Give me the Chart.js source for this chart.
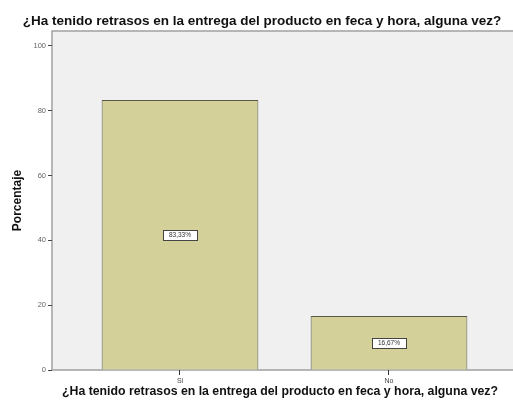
<!DOCTYPE html>
<html>
<head>
<meta charset="utf-8">
<script src="https://cdn.jsdelivr.net/npm/chart.js@4.4.1/dist/chart.umd.min.js"></script>
<style>
  html, body { margin: 0; padding: 0; background: #ffffff; overflow: hidden; }
  #wrap { position: relative; width: 513px; height: 407px; overflow: hidden; }
  #chart { display: block; width: 525px; height: 407px; max-width: none; }
</style>
</head>
<body>
<div id="wrap"><canvas id="chart" width="525" height="407" style="width:525px;height:407px"></canvas></div>
<script>
// Survey answers and their percentages
const categories = ['Si', 'No'];
const percentages = [83.33, 16.67];
const yTickValues = [0, 20, 40, 60, 80, 100];
const questionText = '¿Ha tenido retrasos en la entrega del producto en feca y hora, alguna vez?';

const FONT = '"Liberation Sans", Arial, sans-serif';

// Light grey plot panel with a grey frame (the frame runs off the right edge)
const panelPlugin = {
  id: 'panel',
  beforeDraw(chart) {
    const { ctx, chartArea: a, width } = chart;
    ctx.save();
    ctx.fillStyle = '#f0f0f0';
    ctx.fillRect(a.left, a.top, width - a.left, a.bottom - a.top);
    ctx.strokeStyle = '#a0a0a0';
    ctx.lineWidth = 1.5;
    ctx.beginPath();
    ctx.moveTo(width + 2, a.top);
    ctx.lineTo(a.left, a.top);
    ctx.lineTo(a.left, a.bottom);
    ctx.lineTo(width + 2, a.bottom);
    ctx.stroke();
    ctx.restore();
  }
};

// Boxed percentage label in the middle of each bar
const valueBoxPlugin = {
  id: 'valueBoxes',
  afterDatasetsDraw(chart) {
    const { ctx } = chart;
    const meta = chart.getDatasetMeta(0);
    const yScale = chart.scales.y;
    ctx.save();
    ctx.font = '6.5px ' + FONT;
    ctx.textAlign = 'center';
    ctx.textBaseline = 'middle';
    meta.data.forEach((bar, i) => {
      const v = percentages[i];
      const text = v.toFixed(2).replace('.', ',') + '%';
      const cx = bar.x;
      const cy = (yScale.getPixelForValue(v) + yScale.getPixelForValue(0)) / 2;
      const w = 34, h = 10;
      ctx.fillStyle = '#ffffff';
      ctx.fillRect(cx - w / 2, cy - h / 2, w, h);
      ctx.strokeStyle = '#444444';
      ctx.lineWidth = 1;
      ctx.strokeRect(Math.round(cx - w / 2) + 0.5, Math.round(cy - h / 2) + 0.5, w, h);
      ctx.fillStyle = '#333333';
      ctx.fillText(text, cx, cy + 0.5);
    });
    ctx.restore();
  }
};

new Chart(document.getElementById('chart'), {
  type: 'bar',
  data: {
    datasets: [{
      data: percentages.map((v, i) => ({ x: i, y: v })),
      backgroundColor: '#d4d09a',
      borderColor: '#57574a',
      borderWidth: 1,
      barPercentage: 0.75,
      categoryPercentage: 1
    }]
  },
  options: {
    responsive: false,
    maintainAspectRatio: false,
    animation: false,
    layout: { padding: { left: 16, right: 17, top: 0, bottom: 0 } },
    plugins: {
      legend: { display: false },
      tooltip: { enabled: false },
      title: {
        display: true,
        text: questionText,
        color: '#111111',
        font: { family: FONT, size: 13.5, weight: 'bold', lineHeight: 1.2 },
        padding: { top: 12.9, bottom: 1.9 }
      }
    },
    scales: {
      x: {
        type: 'linear',
        offset: false,
        min: -0.6124,
        max: 1.5694,
        afterBuildTicks(scale) {
          scale.ticks = categories.map((c, i) => ({ value: i }));
        },
        afterFit(scale) { scale.height = 37; },
        border: { display: false },
        grid: {
          display: true,
          offset: false,
          drawOnChartArea: false,
          drawTicks: true,
          tickLength: 5,
          tickColor: '#333333',
          tickWidth: 1
        },
        ticks: {
          autoSkip: false,
          maxRotation: 0,
          padding: 2,
          color: '#444444',
          font: { family: FONT, size: 7 },
          callback: (value) => categories[value]
        },
        title: {
          display: true,
          text: questionText,
          color: '#111111',
          font: { family: FONT, size: 12.3, weight: 'bold', lineHeight: 1.2 },
          padding: { top: 0, bottom: 7.6 }
        }
      },
      y: {
        min: 0,
        max: 104.6,
        afterBuildTicks(scale) {
          scale.ticks = yTickValues.map(v => ({ value: v }));
        },
        afterFit(scale) { scale.width = 36; },
        border: { display: false },
        grid: {
          display: true,
          drawOnChartArea: false,
          drawTicks: true,
          tickLength: 4,
          tickColor: '#444444',
          tickWidth: 1
        },
        ticks: {
          padding: 2,
          color: '#666666',
          font: { family: FONT, size: 7.5 }
        },
        title: {
          display: true,
          text: 'Porcentaje',
          color: '#111111',
          font: { family: FONT, size: 12, weight: 'bold', lineHeight: 1.2 },
          padding: { top: -5.2, bottom: 0 }
        }
      }
    }
  },
  plugins: [panelPlugin, valueBoxPlugin]
});
</script>
</body>
</html>
